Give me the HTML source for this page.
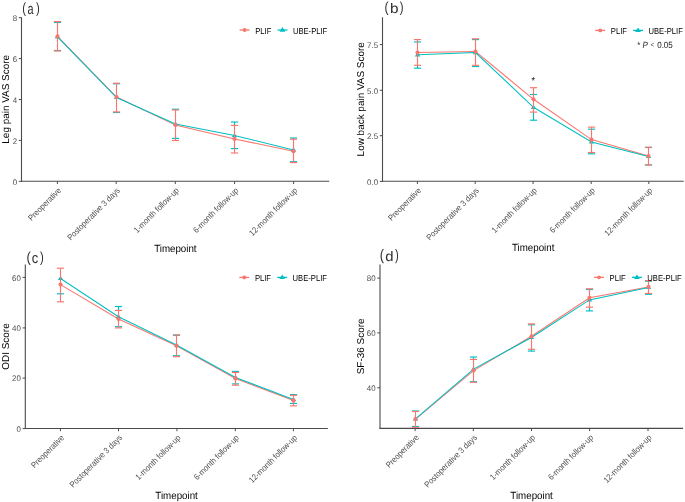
<!DOCTYPE html>
<html><head><meta charset="utf-8"><style>
html,body{margin:0;padding:0;background:#fff;}
svg{display:block;filter:blur(0.2px);}
text{font-family:"Liberation Sans", sans-serif;text-rendering:geometricPrecision;}
.lab{font-size:14.5px;fill:#2e2e2e;}
.ax{stroke:#4a4a4a;stroke-width:1.1;}
.tk{stroke:#4a4a4a;stroke-width:1;}
.yt{font-size:7.9px;fill:#4D4D4D;text-anchor:end;}
.xt{font-size:7.55px;fill:#4D4D4D;text-anchor:end;}
.ttl{font-size:9.95px;fill:#000;text-anchor:middle;}
.lg{font-size:7.65px;fill:#000;}
.star{font-size:9px;fill:#000;text-anchor:middle;}
.pv{font-size:8px;fill:#1a1a1a;}
</style></head><body>
<svg width="685" height="502" viewBox="0 0 685 502">
<rect width="685" height="502" fill="#fff"/>
<g>
<text transform="translate(22.15,12.98) scale(0.781,1.021)" class="lab">(</text>
<text transform="translate(27.49,13.9) scale(0.751,1.045)" class="lab">a</text>
<text transform="translate(36.08,12.98) scale(0.781,1.021)" class="lab">)</text>
<line x1="21.5" y1="17.3" x2="21.5" y2="181.8" class="ax"/>
<line x1="21" y1="181.3" x2="329.2" y2="181.3" class="ax"/>
<line x1="18.8" y1="181.3" x2="21.5" y2="181.3" class="tk"/>
<text transform="translate(17.1,184.5) scale(1,1.03)" class="yt">0</text>
<line x1="18.8" y1="140.4" x2="21.5" y2="140.4" class="tk"/>
<text transform="translate(17.1,143.6) scale(1,1.03)" class="yt">2</text>
<line x1="18.8" y1="99.5" x2="21.5" y2="99.5" class="tk"/>
<text transform="translate(17.1,102.7) scale(1,1.03)" class="yt">4</text>
<line x1="18.8" y1="58.6" x2="21.5" y2="58.6" class="tk"/>
<text transform="translate(17.1,61.8) scale(1,1.03)" class="yt">6</text>
<line x1="18.8" y1="17.7" x2="21.5" y2="17.7" class="tk"/>
<text transform="translate(17.1,20.9) scale(1,1.03)" class="yt">8</text>
<line x1="57.4" y1="181.3" x2="57.4" y2="184" class="tk"/>
<g transform="translate(57.8,187.1) rotate(-45)"><text transform="translate(0,5.5) scale(1,1.12)" class="xt">Preoperative</text></g>
<line x1="116.2" y1="181.3" x2="116.2" y2="184" class="tk"/>
<g transform="translate(116.6,187.1) rotate(-45)"><text transform="translate(0,5.5) scale(1,1.12)" class="xt">Postoperative 3 days</text></g>
<line x1="175.3" y1="181.3" x2="175.3" y2="184" class="tk"/>
<g transform="translate(175.7,187.1) rotate(-45)"><text transform="translate(0,5.5) scale(1,1.12)" class="xt">1-month follow-up</text></g>
<line x1="234.6" y1="181.3" x2="234.6" y2="184" class="tk"/>
<g transform="translate(235,187.1) rotate(-45)"><text transform="translate(0,5.5) scale(1,1.12)" class="xt">6-month follow-up</text></g>
<line x1="293.6" y1="181.3" x2="293.6" y2="184" class="tk"/>
<g transform="translate(294,187.1) rotate(-45)"><text transform="translate(0,5.5) scale(1,1.12)" class="xt">12-month follow-up</text></g>
<text transform="translate(9.3,99.3) rotate(-90)" class="ttl">Leg pain VAS Score</text>
<text transform="translate(175.35,251.5) scale(1,1.07)" class="ttl" style="font-size:9.75px">Timepoint</text>
<polyline points="57.5,36.4 116.5,97 175.5,125.1 234.5,139 293.5,151.2" fill="none" stroke="#F8766D" stroke-width="1.05"/>
<polyline points="57.5,36.8 116.5,97.5 175.5,124 234.5,135.6 293.5,149.9" fill="none" stroke="#00BFC4" stroke-width="1.05"/>
<polygon points="57.5,34.2 60.2,38.4 54.8,38.4" fill="#00BFC4"/>
<polygon points="116.5,94.9 119.2,99.1 113.8,99.1" fill="#00BFC4"/>
<polygon points="175.5,121.4 178.2,125.6 172.8,125.6" fill="#00BFC4"/>
<polygon points="234.5,133 237.2,137.2 231.8,137.2" fill="#00BFC4"/>
<polygon points="293.5,147.3 296.2,151.5 290.8,151.5" fill="#00BFC4"/>
<circle cx="57.5" cy="36.4" r="2.05" fill="#F8766D"/>
<circle cx="116.5" cy="97" r="2.05" fill="#F8766D"/>
<circle cx="175.5" cy="125.1" r="2.05" fill="#F8766D"/>
<circle cx="234.5" cy="139" r="2.05" fill="#F8766D"/>
<circle cx="293.5" cy="151.2" r="2.05" fill="#F8766D"/>
<line x1="53.9" y1="22.5" x2="61.1" y2="22.5" stroke="#00BFC4" stroke-width="1.15"/>
<line x1="53.9" y1="50.5" x2="61.1" y2="50.5" stroke="#00BFC4" stroke-width="1.15"/>
<line x1="116.5" y1="111.9" x2="116.5" y2="112.5" stroke="#00BFC4" stroke-width="1.15"/>
<line x1="112.9" y1="83.8" x2="120.1" y2="83.8" stroke="#00BFC4" stroke-width="1.15"/>
<line x1="112.9" y1="112.5" x2="120.1" y2="112.5" stroke="#00BFC4" stroke-width="1.15"/>
<line x1="175.5" y1="109.2" x2="175.5" y2="110" stroke="#00BFC4" stroke-width="1.15"/>
<line x1="171.9" y1="109.2" x2="179.1" y2="109.2" stroke="#00BFC4" stroke-width="1.15"/>
<line x1="171.9" y1="138.4" x2="179.1" y2="138.4" stroke="#00BFC4" stroke-width="1.15"/>
<line x1="234.5" y1="122" x2="234.5" y2="125.4" stroke="#00BFC4" stroke-width="1.15"/>
<line x1="230.9" y1="122" x2="238.1" y2="122" stroke="#00BFC4" stroke-width="1.15"/>
<line x1="230.9" y1="148.6" x2="238.1" y2="148.6" stroke="#00BFC4" stroke-width="1.15"/>
<line x1="293.5" y1="138" x2="293.5" y2="139.2" stroke="#00BFC4" stroke-width="1.15"/>
<line x1="289.9" y1="138" x2="297.1" y2="138" stroke="#00BFC4" stroke-width="1.15"/>
<line x1="289.9" y1="161.7" x2="297.1" y2="161.7" stroke="#00BFC4" stroke-width="1.15"/>
<line x1="57.5" y1="21.6" x2="57.5" y2="51" stroke="#F8766D" stroke-width="1.15"/>
<line x1="53.9" y1="21.6" x2="61.1" y2="21.6" stroke="#F8766D" stroke-width="1.15"/>
<line x1="53.9" y1="51" x2="61.1" y2="51" stroke="#F8766D" stroke-width="1.15"/>
<line x1="116.5" y1="83.2" x2="116.5" y2="111.9" stroke="#F8766D" stroke-width="1.15"/>
<line x1="112.9" y1="83.2" x2="120.1" y2="83.2" stroke="#F8766D" stroke-width="1.15"/>
<line x1="112.9" y1="111.9" x2="120.1" y2="111.9" stroke="#F8766D" stroke-width="1.15"/>
<line x1="175.5" y1="110" x2="175.5" y2="140.5" stroke="#F8766D" stroke-width="1.15"/>
<line x1="171.9" y1="110" x2="179.1" y2="110" stroke="#F8766D" stroke-width="1.15"/>
<line x1="171.9" y1="140.5" x2="179.1" y2="140.5" stroke="#F8766D" stroke-width="1.15"/>
<line x1="234.5" y1="125.4" x2="234.5" y2="153" stroke="#F8766D" stroke-width="1.15"/>
<line x1="230.9" y1="125.4" x2="238.1" y2="125.4" stroke="#F8766D" stroke-width="1.15"/>
<line x1="230.9" y1="153" x2="238.1" y2="153" stroke="#F8766D" stroke-width="1.15"/>
<line x1="293.5" y1="139.2" x2="293.5" y2="162.6" stroke="#F8766D" stroke-width="1.15"/>
<line x1="289.9" y1="139.2" x2="297.1" y2="139.2" stroke="#F8766D" stroke-width="1.15"/>
<line x1="289.9" y1="162.6" x2="297.1" y2="162.6" stroke="#F8766D" stroke-width="1.15"/>
<line x1="239.6" y1="30" x2="249.6" y2="30" stroke="#F8766D" stroke-width="1.3"/>
<circle cx="244.6" cy="30" r="1.9" fill="#F8766D"/>
<text transform="translate(255.2,33.5) scale(1,1.12)" class="lg">PLIF</text>
<line x1="277.5" y1="30" x2="287.5" y2="30" stroke="#00BFC4" stroke-width="1.3"/>
<polygon points="282.5,27.1 285.4,31.7 279.6,31.7" fill="#00BFC4"/>
<text transform="translate(292.9,33.5) scale(1,1.12)" class="lg">UBE-PLIF</text>
</g>
<g>
<text transform="translate(384.5,12.03) scale(0.833,1.006)" class="lab">(</text>
<text transform="translate(389.97,12.91) scale(1.057,0.957)" class="lab">b</text>
<text transform="translate(399.68,12.03) scale(0.781,1.006)" class="lab">)</text>
<line x1="382.5" y1="17.3" x2="382.5" y2="181.8" class="ax"/>
<line x1="382" y1="181.3" x2="683.8" y2="181.3" class="ax"/>
<line x1="379.8" y1="181.4" x2="382.5" y2="181.4" class="tk"/>
<text transform="translate(378.1,184.6) scale(1,1.03)" class="yt">0.0</text>
<line x1="379.8" y1="135.7" x2="382.5" y2="135.7" class="tk"/>
<text transform="translate(378.1,138.9) scale(1,1.03)" class="yt">2.5</text>
<line x1="379.8" y1="90.3" x2="382.5" y2="90.3" class="tk"/>
<text transform="translate(378.1,93.5) scale(1,1.03)" class="yt">5.0</text>
<line x1="379.8" y1="44.6" x2="382.5" y2="44.6" class="tk"/>
<text transform="translate(378.1,47.8) scale(1,1.03)" class="yt">7.5</text>
<line x1="417.4" y1="181.3" x2="417.4" y2="184" class="tk"/>
<g transform="translate(417.8,187.1) rotate(-45)"><text transform="translate(0,5.5) scale(1,1.12)" class="xt">Preoperative</text></g>
<line x1="475.2" y1="181.3" x2="475.2" y2="184" class="tk"/>
<g transform="translate(475.6,187.1) rotate(-45)"><text transform="translate(0,5.5) scale(1,1.12)" class="xt">Postoperative 3 days</text></g>
<line x1="533.1" y1="181.3" x2="533.1" y2="184" class="tk"/>
<g transform="translate(533.5,187.1) rotate(-45)"><text transform="translate(0,5.5) scale(1,1.12)" class="xt">1-month follow-up</text></g>
<line x1="591.2" y1="181.3" x2="591.2" y2="184" class="tk"/>
<g transform="translate(591.6,187.1) rotate(-45)"><text transform="translate(0,5.5) scale(1,1.12)" class="xt">6-month follow-up</text></g>
<line x1="648.8" y1="181.3" x2="648.8" y2="184" class="tk"/>
<g transform="translate(649.2,187.1) rotate(-45)"><text transform="translate(0,5.5) scale(1,1.12)" class="xt">12-month follow-up</text></g>
<text transform="translate(363.7,99.3) rotate(-90)" class="ttl">Low back pain VAS Score</text>
<text transform="translate(533.15,251.3) scale(1,1.07)" class="ttl" style="font-size:9.75px">Timepoint</text>
<polyline points="417.5,52.6 475.5,51.6 533.5,99.3 591.5,139.6 648.5,156" fill="none" stroke="#F8766D" stroke-width="1.05"/>
<polyline points="417.5,54.8 475.5,52.6 533.5,107.3 591.5,141.9 648.5,156.5" fill="none" stroke="#00BFC4" stroke-width="1.05"/>
<polygon points="417.5,52.2 420.2,56.4 414.8,56.4" fill="#00BFC4"/>
<polygon points="475.5,50 478.2,54.2 472.8,54.2" fill="#00BFC4"/>
<polygon points="533.5,104.7 536.2,108.9 530.8,108.9" fill="#00BFC4"/>
<polygon points="591.5,139.3 594.2,143.5 588.8,143.5" fill="#00BFC4"/>
<polygon points="648.5,153.9 651.2,158.1 645.8,158.1" fill="#00BFC4"/>
<circle cx="417.5" cy="52.6" r="2.05" fill="#F8766D"/>
<circle cx="475.5" cy="51.6" r="2.05" fill="#F8766D"/>
<circle cx="533.5" cy="99.3" r="2.05" fill="#F8766D"/>
<circle cx="591.5" cy="139.6" r="2.05" fill="#F8766D"/>
<circle cx="648.5" cy="156" r="2.05" fill="#F8766D"/>
<line x1="417.5" y1="65.3" x2="417.5" y2="68.2" stroke="#00BFC4" stroke-width="1.15"/>
<line x1="413.9" y1="42" x2="421.1" y2="42" stroke="#00BFC4" stroke-width="1.15"/>
<line x1="413.9" y1="68.2" x2="421.1" y2="68.2" stroke="#00BFC4" stroke-width="1.15"/>
<line x1="475.5" y1="65.3" x2="475.5" y2="66.5" stroke="#00BFC4" stroke-width="1.15"/>
<line x1="471.9" y1="39.6" x2="479.1" y2="39.6" stroke="#00BFC4" stroke-width="1.15"/>
<line x1="471.9" y1="66.5" x2="479.1" y2="66.5" stroke="#00BFC4" stroke-width="1.15"/>
<line x1="533.5" y1="112.1" x2="533.5" y2="120.2" stroke="#00BFC4" stroke-width="1.15"/>
<line x1="529.9" y1="94.5" x2="537.1" y2="94.5" stroke="#00BFC4" stroke-width="1.15"/>
<line x1="529.9" y1="120.2" x2="537.1" y2="120.2" stroke="#00BFC4" stroke-width="1.15"/>
<line x1="591.5" y1="152.5" x2="591.5" y2="153.8" stroke="#00BFC4" stroke-width="1.15"/>
<line x1="587.9" y1="129.2" x2="595.1" y2="129.2" stroke="#00BFC4" stroke-width="1.15"/>
<line x1="587.9" y1="153.8" x2="595.1" y2="153.8" stroke="#00BFC4" stroke-width="1.15"/>
<line x1="644.9" y1="147.5" x2="652.1" y2="147.5" stroke="#00BFC4" stroke-width="1.15"/>
<line x1="644.9" y1="164.9" x2="652.1" y2="164.9" stroke="#00BFC4" stroke-width="1.15"/>
<line x1="417.5" y1="39.6" x2="417.5" y2="65.3" stroke="#F8766D" stroke-width="1.15"/>
<line x1="413.9" y1="39.6" x2="421.1" y2="39.6" stroke="#F8766D" stroke-width="1.15"/>
<line x1="413.9" y1="65.3" x2="421.1" y2="65.3" stroke="#F8766D" stroke-width="1.15"/>
<line x1="475.5" y1="38.8" x2="475.5" y2="65.3" stroke="#F8766D" stroke-width="1.15"/>
<line x1="471.9" y1="38.8" x2="479.1" y2="38.8" stroke="#F8766D" stroke-width="1.15"/>
<line x1="471.9" y1="65.3" x2="479.1" y2="65.3" stroke="#F8766D" stroke-width="1.15"/>
<line x1="533.5" y1="87.7" x2="533.5" y2="112.1" stroke="#F8766D" stroke-width="1.15"/>
<line x1="529.9" y1="87.7" x2="537.1" y2="87.7" stroke="#F8766D" stroke-width="1.15"/>
<line x1="529.9" y1="112.1" x2="537.1" y2="112.1" stroke="#F8766D" stroke-width="1.15"/>
<line x1="591.5" y1="127.1" x2="591.5" y2="152.5" stroke="#F8766D" stroke-width="1.15"/>
<line x1="587.9" y1="127.1" x2="595.1" y2="127.1" stroke="#F8766D" stroke-width="1.15"/>
<line x1="587.9" y1="152.5" x2="595.1" y2="152.5" stroke="#F8766D" stroke-width="1.15"/>
<line x1="648.5" y1="147.2" x2="648.5" y2="165" stroke="#F8766D" stroke-width="1.15"/>
<line x1="644.9" y1="147.2" x2="652.1" y2="147.2" stroke="#F8766D" stroke-width="1.15"/>
<line x1="644.9" y1="165" x2="652.1" y2="165" stroke="#F8766D" stroke-width="1.15"/>
<line x1="595.2" y1="30.4" x2="605.2" y2="30.4" stroke="#F8766D" stroke-width="1.3"/>
<circle cx="600.2" cy="30.4" r="1.9" fill="#F8766D"/>
<text transform="translate(610.8,33.9) scale(1,1.12)" class="lg">PLIF</text>
<line x1="633.1" y1="30.4" x2="643.1" y2="30.4" stroke="#00BFC4" stroke-width="1.3"/>
<polygon points="638.1,27.5 641,32.1 635.2,32.1" fill="#00BFC4"/>
<text transform="translate(648.5,33.9) scale(1,1.12)" class="lg">UBE-PLIF</text>
</g>
<g>
<text transform="translate(26.45,262.13) scale(0.885,1.006)" class="lab">(</text>
<text transform="translate(31.81,262.9) scale(0.894,1.032)" class="lab">c</text>
<text transform="translate(40.08,262.13) scale(0.781,1.006)" class="lab">)</text>
<line x1="25.3" y1="264.5" x2="25.3" y2="429" class="ax"/>
<line x1="24.8" y1="428.5" x2="327.8" y2="428.5" class="ax"/>
<line x1="22.6" y1="428.6" x2="25.3" y2="428.6" class="tk"/>
<text transform="translate(20.9,431.8) scale(1,1.03)" class="yt">0</text>
<line x1="22.6" y1="378.1" x2="25.3" y2="378.1" class="tk"/>
<text transform="translate(20.9,381.3) scale(1,1.03)" class="yt">20</text>
<line x1="22.6" y1="327.9" x2="25.3" y2="327.9" class="tk"/>
<text transform="translate(20.9,331.1) scale(1,1.03)" class="yt">40</text>
<line x1="22.6" y1="277.4" x2="25.3" y2="277.4" class="tk"/>
<text transform="translate(20.9,280.6) scale(1,1.03)" class="yt">60</text>
<line x1="60.45" y1="428.5" x2="60.45" y2="431.2" class="tk"/>
<g transform="translate(60.85,434.3) rotate(-45)"><text transform="translate(0,5.5) scale(1,1.12)" class="xt">Preoperative</text></g>
<line x1="118.5" y1="428.5" x2="118.5" y2="431.2" class="tk"/>
<g transform="translate(118.9,434.3) rotate(-45)"><text transform="translate(0,5.5) scale(1,1.12)" class="xt">Postoperative 3 days</text></g>
<line x1="176.95" y1="428.5" x2="176.95" y2="431.2" class="tk"/>
<g transform="translate(177.35,434.3) rotate(-45)"><text transform="translate(0,5.5) scale(1,1.12)" class="xt">1-month follow-up</text></g>
<line x1="235.3" y1="428.5" x2="235.3" y2="431.2" class="tk"/>
<g transform="translate(235.7,434.3) rotate(-45)"><text transform="translate(0,5.5) scale(1,1.12)" class="xt">6-month follow-up</text></g>
<line x1="293.4" y1="428.5" x2="293.4" y2="431.2" class="tk"/>
<g transform="translate(293.8,434.3) rotate(-45)"><text transform="translate(0,5.5) scale(1,1.12)" class="xt">12-month follow-up</text></g>
<text transform="translate(9,346.5) rotate(-90)" class="ttl">ODI Score</text>
<text transform="translate(176.55,498.6) scale(1,1.07)" class="ttl" style="font-size:9.75px">Timepoint</text>
<polyline points="60.5,284.6 118.5,319 176.5,345.7 235.5,378.4 293.5,400.6" fill="none" stroke="#F8766D" stroke-width="1.05"/>
<polyline points="60.5,278.5 118.5,316.7 176.5,345 235.5,377.5 293.5,399.5" fill="none" stroke="#00BFC4" stroke-width="1.05"/>
<polygon points="60.5,275.9 63.2,280.1 57.8,280.1" fill="#00BFC4"/>
<polygon points="118.5,314.1 121.2,318.3 115.8,318.3" fill="#00BFC4"/>
<polygon points="176.5,342.4 179.2,346.6 173.8,346.6" fill="#00BFC4"/>
<polygon points="235.5,374.9 238.2,379.1 232.8,379.1" fill="#00BFC4"/>
<polygon points="293.5,396.9 296.2,401.1 290.8,401.1" fill="#00BFC4"/>
<circle cx="60.5" cy="284.6" r="2.05" fill="#F8766D"/>
<circle cx="118.5" cy="319" r="2.05" fill="#F8766D"/>
<circle cx="176.5" cy="345.7" r="2.05" fill="#F8766D"/>
<circle cx="235.5" cy="378.4" r="2.05" fill="#F8766D"/>
<circle cx="293.5" cy="400.6" r="2.05" fill="#F8766D"/>
<line x1="56.9" y1="293.8" x2="64.1" y2="293.8" stroke="#00BFC4" stroke-width="1.15"/>
<line x1="118.5" y1="306.5" x2="118.5" y2="310.4" stroke="#00BFC4" stroke-width="1.15"/>
<line x1="114.9" y1="306.5" x2="122.1" y2="306.5" stroke="#00BFC4" stroke-width="1.15"/>
<line x1="114.9" y1="326.7" x2="122.1" y2="326.7" stroke="#00BFC4" stroke-width="1.15"/>
<line x1="172.9" y1="335.3" x2="180.1" y2="335.3" stroke="#00BFC4" stroke-width="1.15"/>
<line x1="172.9" y1="355.7" x2="180.1" y2="355.7" stroke="#00BFC4" stroke-width="1.15"/>
<line x1="235.5" y1="371.4" x2="235.5" y2="372.4" stroke="#00BFC4" stroke-width="1.15"/>
<line x1="231.9" y1="371.4" x2="239.1" y2="371.4" stroke="#00BFC4" stroke-width="1.15"/>
<line x1="231.9" y1="383.9" x2="239.1" y2="383.9" stroke="#00BFC4" stroke-width="1.15"/>
<line x1="293.5" y1="394.6" x2="293.5" y2="395.3" stroke="#00BFC4" stroke-width="1.15"/>
<line x1="289.9" y1="394.6" x2="297.1" y2="394.6" stroke="#00BFC4" stroke-width="1.15"/>
<line x1="289.9" y1="403.4" x2="297.1" y2="403.4" stroke="#00BFC4" stroke-width="1.15"/>
<line x1="60.5" y1="268.2" x2="60.5" y2="301.8" stroke="#F8766D" stroke-width="1.15"/>
<line x1="56.9" y1="268.2" x2="64.1" y2="268.2" stroke="#F8766D" stroke-width="1.15"/>
<line x1="56.9" y1="301.8" x2="64.1" y2="301.8" stroke="#F8766D" stroke-width="1.15"/>
<line x1="118.5" y1="310.4" x2="118.5" y2="327.9" stroke="#F8766D" stroke-width="1.15"/>
<line x1="114.9" y1="310.4" x2="122.1" y2="310.4" stroke="#F8766D" stroke-width="1.15"/>
<line x1="114.9" y1="327.9" x2="122.1" y2="327.9" stroke="#F8766D" stroke-width="1.15"/>
<line x1="176.5" y1="334.8" x2="176.5" y2="356.7" stroke="#F8766D" stroke-width="1.15"/>
<line x1="172.9" y1="334.8" x2="180.1" y2="334.8" stroke="#F8766D" stroke-width="1.15"/>
<line x1="172.9" y1="356.7" x2="180.1" y2="356.7" stroke="#F8766D" stroke-width="1.15"/>
<line x1="235.5" y1="372.4" x2="235.5" y2="385.2" stroke="#F8766D" stroke-width="1.15"/>
<line x1="231.9" y1="372.4" x2="239.1" y2="372.4" stroke="#F8766D" stroke-width="1.15"/>
<line x1="231.9" y1="385.2" x2="239.1" y2="385.2" stroke="#F8766D" stroke-width="1.15"/>
<line x1="293.5" y1="395.3" x2="293.5" y2="405.9" stroke="#F8766D" stroke-width="1.15"/>
<line x1="289.9" y1="395.3" x2="297.1" y2="395.3" stroke="#F8766D" stroke-width="1.15"/>
<line x1="289.9" y1="405.9" x2="297.1" y2="405.9" stroke="#F8766D" stroke-width="1.15"/>
<line x1="239.3" y1="277.4" x2="249.3" y2="277.4" stroke="#F8766D" stroke-width="1.3"/>
<circle cx="244.3" cy="277.4" r="1.9" fill="#F8766D"/>
<text transform="translate(254.9,280.9) scale(1,1.12)" class="lg">PLIF</text>
<line x1="277.2" y1="277.4" x2="287.2" y2="277.4" stroke="#00BFC4" stroke-width="1.3"/>
<polygon points="282.2,274.5 285.1,279.1 279.3,279.1" fill="#00BFC4"/>
<text transform="translate(292.6,280.9) scale(1,1.12)" class="lg">UBE-PLIF</text>
</g>
<g>
<text transform="translate(379.65,259.77) scale(0.885,1.058)" class="lab">(</text>
<text transform="translate(385.32,260.51) scale(1.027,0.948)" class="lab">d</text>
<text transform="translate(395.08,259.77) scale(0.781,1.058)" class="lab">)</text>
<line x1="380" y1="264.4" x2="380" y2="428.9" class="ax"/>
<line x1="379.5" y1="428.4" x2="683.1" y2="428.4" class="ax"/>
<line x1="377.3" y1="387.8" x2="380" y2="387.8" class="tk"/>
<text transform="translate(375.6,391) scale(1,1.03)" class="yt">40</text>
<line x1="377.3" y1="332.9" x2="380" y2="332.9" class="tk"/>
<text transform="translate(375.6,336.1) scale(1,1.03)" class="yt">60</text>
<line x1="377.3" y1="278.1" x2="380" y2="278.1" class="tk"/>
<text transform="translate(375.6,281.3) scale(1,1.03)" class="yt">80</text>
<line x1="415.1" y1="428.4" x2="415.1" y2="431.1" class="tk"/>
<g transform="translate(415.5,434.2) rotate(-45)"><text transform="translate(0,5.5) scale(1,1.12)" class="xt">Preoperative</text></g>
<line x1="473.3" y1="428.4" x2="473.3" y2="431.1" class="tk"/>
<g transform="translate(473.7,434.2) rotate(-45)"><text transform="translate(0,5.5) scale(1,1.12)" class="xt">Postoperative 3 days</text></g>
<line x1="531.5" y1="428.4" x2="531.5" y2="431.1" class="tk"/>
<g transform="translate(531.9,434.2) rotate(-45)"><text transform="translate(0,5.5) scale(1,1.12)" class="xt">1-month follow-up</text></g>
<line x1="589.6" y1="428.4" x2="589.6" y2="431.1" class="tk"/>
<g transform="translate(590,434.2) rotate(-45)"><text transform="translate(0,5.5) scale(1,1.12)" class="xt">6-month follow-up</text></g>
<line x1="648" y1="428.4" x2="648" y2="431.1" class="tk"/>
<g transform="translate(648.4,434.2) rotate(-45)"><text transform="translate(0,5.5) scale(1,1.12)" class="xt">12-month follow-up</text></g>
<text transform="translate(364.1,346.4) rotate(-90)" class="ttl">SF-36 Score</text>
<text transform="translate(531.55,498.5) scale(1,1.07)" class="ttl" style="font-size:9.75px">Timepoint</text>
<polyline points="415.5,419.1 473.5,370.6 531.5,336.3 589.5,297.7 648.5,286.9" fill="none" stroke="#F8766D" stroke-width="1.05"/>
<polyline points="415.5,418.8 473.5,369.1 531.5,337.5 589.5,299.9 648.5,287.5" fill="none" stroke="#00BFC4" stroke-width="1.05"/>
<polygon points="415.5,416.2 418.2,420.4 412.8,420.4" fill="#00BFC4"/>
<polygon points="473.5,366.5 476.2,370.7 470.8,370.7" fill="#00BFC4"/>
<polygon points="531.5,334.9 534.2,339.1 528.8,339.1" fill="#00BFC4"/>
<polygon points="589.5,297.3 592.2,301.5 586.8,301.5" fill="#00BFC4"/>
<polygon points="648.5,284.9 651.2,289.1 645.8,289.1" fill="#00BFC4"/>
<circle cx="415.5" cy="419.1" r="2.05" fill="#F8766D"/>
<circle cx="473.5" cy="370.6" r="2.05" fill="#F8766D"/>
<circle cx="531.5" cy="336.3" r="2.05" fill="#F8766D"/>
<circle cx="589.5" cy="297.7" r="2.05" fill="#F8766D"/>
<circle cx="648.5" cy="286.9" r="2.05" fill="#F8766D"/>
<line x1="415.5" y1="411" x2="415.5" y2="411.5" stroke="#00BFC4" stroke-width="1.15"/>
<line x1="411.9" y1="411" x2="419.1" y2="411" stroke="#00BFC4" stroke-width="1.15"/>
<line x1="411.9" y1="426.5" x2="419.1" y2="426.5" stroke="#00BFC4" stroke-width="1.15"/>
<line x1="473.5" y1="357" x2="473.5" y2="359.4" stroke="#00BFC4" stroke-width="1.15"/>
<line x1="469.9" y1="357" x2="477.1" y2="357" stroke="#00BFC4" stroke-width="1.15"/>
<line x1="469.9" y1="381.7" x2="477.1" y2="381.7" stroke="#00BFC4" stroke-width="1.15"/>
<line x1="531.5" y1="349.3" x2="531.5" y2="351.1" stroke="#00BFC4" stroke-width="1.15"/>
<line x1="527.9" y1="324.8" x2="535.1" y2="324.8" stroke="#00BFC4" stroke-width="1.15"/>
<line x1="527.9" y1="351.1" x2="535.1" y2="351.1" stroke="#00BFC4" stroke-width="1.15"/>
<line x1="589.5" y1="307.2" x2="589.5" y2="310.9" stroke="#00BFC4" stroke-width="1.15"/>
<line x1="585.9" y1="289.5" x2="593.1" y2="289.5" stroke="#00BFC4" stroke-width="1.15"/>
<line x1="585.9" y1="310.9" x2="593.1" y2="310.9" stroke="#00BFC4" stroke-width="1.15"/>
<line x1="648.5" y1="293.5" x2="648.5" y2="294.3" stroke="#00BFC4" stroke-width="1.15"/>
<line x1="644.9" y1="281.2" x2="652.1" y2="281.2" stroke="#00BFC4" stroke-width="1.15"/>
<line x1="644.9" y1="294.3" x2="652.1" y2="294.3" stroke="#00BFC4" stroke-width="1.15"/>
<line x1="415.5" y1="411.5" x2="415.5" y2="427.4" stroke="#F8766D" stroke-width="1.15"/>
<line x1="411.9" y1="411.5" x2="419.1" y2="411.5" stroke="#F8766D" stroke-width="1.15"/>
<line x1="411.9" y1="427.4" x2="419.1" y2="427.4" stroke="#F8766D" stroke-width="1.15"/>
<line x1="473.5" y1="359.4" x2="473.5" y2="382.3" stroke="#F8766D" stroke-width="1.15"/>
<line x1="469.9" y1="359.4" x2="477.1" y2="359.4" stroke="#F8766D" stroke-width="1.15"/>
<line x1="469.9" y1="382.3" x2="477.1" y2="382.3" stroke="#F8766D" stroke-width="1.15"/>
<line x1="531.5" y1="323.9" x2="531.5" y2="349.3" stroke="#F8766D" stroke-width="1.15"/>
<line x1="527.9" y1="323.9" x2="535.1" y2="323.9" stroke="#F8766D" stroke-width="1.15"/>
<line x1="527.9" y1="349.3" x2="535.1" y2="349.3" stroke="#F8766D" stroke-width="1.15"/>
<line x1="589.5" y1="288.8" x2="589.5" y2="307.2" stroke="#F8766D" stroke-width="1.15"/>
<line x1="585.9" y1="288.8" x2="593.1" y2="288.8" stroke="#F8766D" stroke-width="1.15"/>
<line x1="585.9" y1="307.2" x2="593.1" y2="307.2" stroke="#F8766D" stroke-width="1.15"/>
<line x1="648.5" y1="280.6" x2="648.5" y2="293.5" stroke="#F8766D" stroke-width="1.15"/>
<line x1="644.9" y1="280.6" x2="652.1" y2="280.6" stroke="#F8766D" stroke-width="1.15"/>
<line x1="644.9" y1="293.5" x2="652.1" y2="293.5" stroke="#F8766D" stroke-width="1.15"/>
<line x1="594" y1="277.3" x2="604" y2="277.3" stroke="#F8766D" stroke-width="1.3"/>
<circle cx="599" cy="277.3" r="1.9" fill="#F8766D"/>
<text transform="translate(609.6,280.8) scale(1,1.12)" class="lg">PLIF</text>
<line x1="631.9" y1="277.3" x2="641.9" y2="277.3" stroke="#00BFC4" stroke-width="1.3"/>
<polygon points="636.9,274.4 639.8,279 634,279" fill="#00BFC4"/>
<text transform="translate(647.3,280.8) scale(1,1.12)" class="lg">UBE-PLIF</text>
</g>
<text transform="translate(533.3,84.2) scale(1,1.12)" class="star">*</text>
<text transform="translate(637.3,47.6) scale(1,1.12)" class="pv">*</text>
<text transform="translate(642.4,47.6) scale(1,1.12)" class="pv" font-style="italic">P</text>
<text transform="translate(650.5,47.4) scale(1,1.12)" class="pv" style="font-size:6.2px">&lt;</text>
<text transform="translate(657.2,47.6) scale(1,1.12)" class="pv">0.05</text>
</svg>
</body></html>
